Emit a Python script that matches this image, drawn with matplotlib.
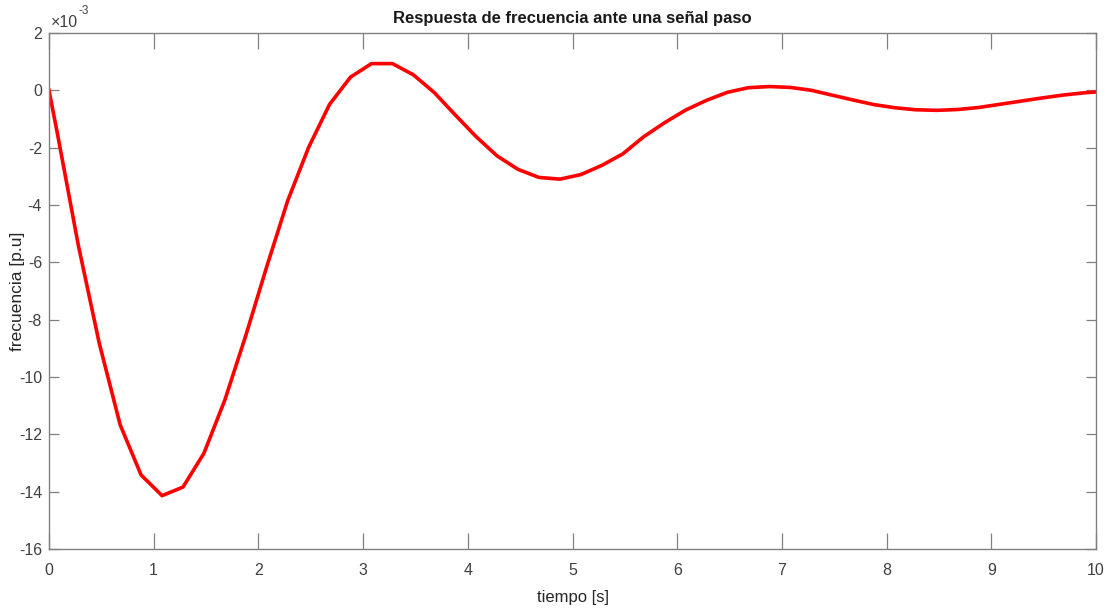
import numpy as np
import matplotlib
matplotlib.use("Agg")
import matplotlib.pyplot as plt
from matplotlib import font_manager

# tiempo de simulacion [s]
t = [0.0, 0.08, 0.28, 0.48, 0.68, 0.88, 1.08, 1.28, 1.48, 1.68, 1.88,
     2.08, 2.28, 2.48, 2.68, 2.88, 3.08, 3.28, 3.48, 3.68, 3.88,
     4.08, 4.28, 4.48, 4.68, 4.88, 5.08, 5.28, 5.48, 5.68, 5.88,
     6.08, 6.28, 6.48, 6.68, 6.88, 7.08, 7.28, 7.48, 7.68, 7.88,
     8.08, 8.28, 8.48, 8.68, 8.88, 9.08, 9.28, 9.48, 9.68, 9.88, 10.0]

# desviacion de frecuencia [p.u] en unidades de 1e-3
df = [0.0, -1.5, -5.4, -8.82, -11.67, -13.42, -14.14, -13.84, -12.66, -10.80, -8.55,
      -6.15, -3.85, -1.99, -0.49, 0.46, 0.93, 0.93, 0.54, -0.08, -0.86,
      -1.62, -2.29, -2.76, -3.04, -3.10, -2.94, -2.62, -2.22, -1.62, -1.13,
      -0.69, -0.35, -0.07, 0.09, 0.13, 0.10, 0.00, -0.17, -0.34, -0.50,
      -0.61, -0.68, -0.70, -0.67, -0.60, -0.49, -0.38, -0.27, -0.17, -0.09, -0.06]

xticks = list(range(0, 11))
yticks = list(range(-16, 3, 2))

names = {f.name for f in font_manager.fontManager.ttflist}
narrow = "Liberation Sans Narrow" if "Liberation Sans Narrow" in names else "Liberation Sans"
plt.rcParams["font.family"] = [narrow, "DejaVu Sans"]

gris = "#808080"
texto = "#404040"

fig = plt.figure(figsize=(11.08, 6.10), dpi=100)
ax = fig.add_axes([0.0442, 0.100, 0.945, 0.846])

ax.plot(t, df, color="red", linewidth=2.6)

ax.set_xlim(0, 10)
ax.set_ylim(-16, 2)
ax.set_xticks(xticks)
ax.set_yticks(yticks)
ax.set_xticklabels([str(v) for v in xticks])
ax.set_yticklabels([str(v) for v in yticks])

for s in ax.spines.values():
    s.set_color(gris)
    s.set_linewidth(1.0)

ax.tick_params(axis="both", direction="in", top=True, right=True,
               colors=gris, labelcolor=texto, labelsize=11.5, width=0.9)
ax.tick_params(axis="x", length=11.5, pad=10)
ax.tick_params(axis="y", length=7.5, pad=5)

ax.set_title("Respuesta de frecuencia ante una señal paso",
             fontsize=12, fontweight="bold", color="#1a1a1a", pad=7)
ax.set_xlabel("tiempo [s]", fontsize=12, color="#262626", labelpad=9)
ax.set_ylabel("frecuencia [p.u]", fontsize=12.5, color="#262626",
              family=["Liberation Sans", "DejaVu Sans"])
ax.yaxis.set_label_coords(-0.0225, 0.5)

# exponente de la escala vertical
ax.text(0.002, 1.006, "×10", transform=ax.transAxes,
        fontsize=11.5, color=texto, ha="left", va="bottom")
ax.text(0.0285, 1.030, "-3", transform=ax.transAxes,
        fontsize=8.5, color=texto, ha="left", va="bottom")

fig.savefig("out.png", dpi=100, facecolor="white")
